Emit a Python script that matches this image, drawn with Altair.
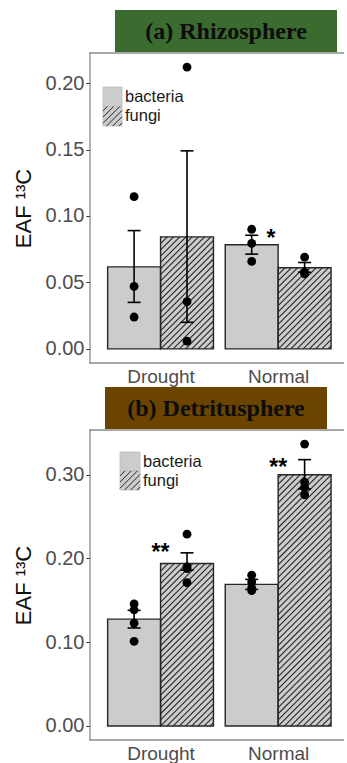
import altair as alt
import numpy as np
import pandas as pd

conditions = ["Drought", "Normal"]
groups = ["bacteria", "fungi"]

# ---------------- (a) Rhizosphere ----------------
a_mean_bacteria = [0.0617, 0.0783]
a_mean_fungi = [0.0843, 0.0610]
a_lo_bacteria = [0.0350, 0.0713]
a_hi_bacteria = [0.0890, 0.0855]
a_lo_fungi = [0.0200, 0.0577]
a_hi_fungi = [0.1490, 0.0650]
a_pts_drought_bacteria = [0.1145, 0.0470, 0.0240]
a_pts_drought_fungi = [0.2120, 0.0355, 0.0058]
a_pts_normal_bacteria = [0.0900, 0.0793, 0.0658]
a_pts_normal_fungi = [0.0690, 0.0575, 0.0565]
a_sig_labels = ["*"]
a_sig_x = [1.94]
a_sig_y = [0.0865]
a_ticks = [0.00, 0.05, 0.10, 0.15, 0.20]
a_ydom = [-0.0106, 0.2226]

# ---------------- (b) Detritusphere ----------------
b_mean_bacteria = [0.1275, 0.1690]
b_mean_fungi = [0.1940, 0.3000]
b_lo_bacteria = [0.1170, 0.1630]
b_hi_bacteria = [0.1380, 0.1750]
b_lo_fungi = [0.1860, 0.2830]
b_hi_fungi = [0.2067, 0.3180]
b_pts_drought_bacteria = [0.1457, 0.1386, 0.1228, 0.1010]
b_pts_drought_fungi = [0.2290, 0.1900, 0.1880, 0.1710]
b_pts_normal_bacteria = [0.1800, 0.1720, 0.1650, 0.1615]
b_pts_normal_fungi = [0.3366, 0.2910, 0.2850, 0.2760]
b_sig_labels = ["**", "**"]
b_sig_x = [1.0, 2.0]
b_sig_y = [0.212, 0.314]
b_ticks = [0.00, 0.10, 0.20, 0.30]
b_ydom = [-0.0168, 0.3534]

# ---------------- style ----------------
W, H = 254, 310
X_DOM = [0.4, 2.56]
BAR_W = 0.45
KX = W / (X_DOM[1] - X_DOM[0])
CAP_PX = 6.5
HATCH_SP = 6.2
FONT = "Liberation Sans"
BAR_FILL = "#cccccc"
DARK = "#262626"
FRAME = "#8c8c8c"
FW = 0.65  # half frame line width


def hatch(x0, ybase, wpx, hpx, ky):
    segs = []
    b = -wpx + HATCH_SP / 2
    while b < hpx:
        xs = max(0.0, -b)
        xe = min(wpx, hpx - b)
        if xe - xs > 0.3:
            segs.append({"hx": x0 + xs / KX, "hy": ybase + (xs + b) / ky,
                         "hx2": x0 + xe / KX, "hy2": ybase + (xe + b) / ky})
        b += HATCH_SP
    return segs


def make_panel(title, box_color, box_px, means, los, his, pts, sig, y_dom, y_ticks, leg):
    ky = H / (y_dom[1] - y_dom[0])
    xs = alt.Scale(domain=X_DOM, nice=False, zero=False)
    ys = alt.Scale(domain=y_dom, nice=False, zero=False)
    label_expr = "[" + ",".join("'%s'" % c for c in conditions) + "][round(datum.value) - 1]"
    x_axis = alt.Axis(values=[1, 2], labelExpr=label_expr, title=None, domain=False,
                      ticks=False, grid=False, labelFontSize=19, labelColor="#4d4d4d",
                      labelPadding=4, labelFont=FONT)
    y_axis = alt.Axis(values=y_ticks, format=".2f", title="EAF  ¹³C", domain=False, grid=False,
                      tickColor=DARK, tickSize=4, labelFontSize=20, labelColor="#4d4d4d",
                      labelPadding=2, labelFont=FONT, titleFont=FONT, titleFontSize=22,
                      titleFontWeight="normal", titleColor="#111111", titlePadding=10)

    def X(f):
        return alt.X(f + ":Q", scale=xs, axis=x_axis)

    def Y(f):
        return alt.Y(f + ":Q", scale=ys, axis=y_axis)

    rows, prow, hrows = [], [], []
    for ci, cond in enumerate(conditions):
        for g in groups:
            x0 = ci + 1 - BAR_W if g == "bacteria" else ci + 1
            xc = x0 + BAR_W / 2
            rows.append({"cond": cond, "group": g, "x0": x0, "x1": x0 + BAR_W, "xc": xc,
                         "xl": xc - CAP_PX / KX, "xr": xc + CAP_PX / KX,
                         "mean": means[g][ci], "lo": los[g][ci], "hi": his[g][ci]})
            for v in pts[(cond, g)]:
                prow.append({"xc": xc, "v": v})
            if g == "fungi":
                hrows += hatch(x0, 0.0, BAR_W * KX, means[g][ci] * ky, ky)
    bars = pd.DataFrame(rows)
    points = pd.DataFrame(prow)
    hatches = pd.DataFrame(hrows)

    # legend (in data coordinates, from pixel offsets)
    lx0, lx1, ly, lh, ltx = leg
    lrows, lhrows = [], []
    for i, g in enumerate(groups):
        top = y_dom[1] - (ly + i * lh) / ky
        bot = y_dom[1] - (ly + (i + 1) * lh) / ky
        x0 = X_DOM[0] + lx0 / KX
        x1 = X_DOM[0] + lx1 / KX
        lrows.append({"group": g, "x0": x0, "x1": x1, "top": top, "bot": bot,
                      "tx": X_DOM[0] + ltx / KX, "ty": (top + bot) / 2})
        if g == "fungi":
            lhrows += hatch(x0, bot, (lx1 - lx0), lh, ky)
    legd = pd.DataFrame(lrows)
    leghatch = pd.DataFrame(lhrows)

    one = pd.DataFrame({"k": [0]})
    layers = []
    # title box
    layers.append(alt.Chart(one).mark_rect(color=box_color).encode(
        x=alt.value(box_px[0]), x2=alt.value(box_px[1]), y=alt.value(-43), y2=alt.value(-1)))
    layers.append(alt.Chart(one).mark_text(text=title, font="Liberation Serif", fontSize=24,
                                           fontWeight="bold", color="#0d0d0d", align="center",
                                           baseline="middle").encode(
        x=alt.value((box_px[0] + box_px[1]) / 2), y=alt.value(-21)))
    # frame (top, left, bottom) as thin filled strips
    layers.append(alt.Chart(one).mark_rect(color=FRAME).encode(
        x=alt.value(-FW), x2=alt.value(W), y=alt.value(-FW), y2=alt.value(FW)))
    layers.append(alt.Chart(one).mark_rect(color=FRAME).encode(
        x=alt.value(-FW), x2=alt.value(FW), y=alt.value(-FW), y2=alt.value(H + FW)))
    layers.append(alt.Chart(one).mark_rect(color=FRAME).encode(
        x=alt.value(-FW), x2=alt.value(W), y=alt.value(H - FW), y2=alt.value(H + FW)))
    # bars
    layers.append(alt.Chart(bars).mark_rect(fill=BAR_FILL).encode(
        x=X("x0"), x2="x1", y=Y("mean"), y2=alt.datum(0)))
    layers.append(alt.Chart(hatches).mark_rule(color=DARK, strokeWidth=1.1).encode(
        x=X("hx"), x2="hx2", y=Y("hy"), y2="hy2"))
    layers.append(alt.Chart(bars).mark_rect(fillOpacity=0, stroke=DARK, strokeWidth=1.4).encode(
        x=X("x0"), x2="x1", y=Y("mean"), y2=alt.datum(0)))
    # error bars
    eb = dict(color="black", strokeWidth=1.6)
    layers.append(alt.Chart(bars).mark_rule(**eb).encode(x=X("xc"), y=Y("lo"), y2="hi"))
    layers.append(alt.Chart(bars).mark_rule(**eb).encode(x=X("xl"), x2="xr", y=Y("lo")))
    layers.append(alt.Chart(bars).mark_rule(**eb).encode(x=X("xl"), x2="xr", y=Y("hi")))
    # points
    layers.append(alt.Chart(points).mark_circle(size=78, color="black", opacity=1).encode(
        x=X("xc"), y=Y("v")))
    # significance
    sigdf = pd.DataFrame({"lab": sig[0], "sx": sig[1], "sy": sig[2]})
    layers.append(alt.Chart(sigdf).mark_text(fontSize=23, fontWeight="bold", font=FONT,
                                             color="black", baseline="alphabetic", dy=12).encode(
        x=X("sx"), y=Y("sy"), text="lab:N"))
    # legend
    layers.append(alt.Chart(legd).mark_rect(fill=BAR_FILL, stroke="#bdbdbd", strokeWidth=0.8).encode(
        x=X("x0"), x2="x1", y=Y("top"), y2="bot"))
    layers.append(alt.Chart(leghatch).mark_rule(color=DARK, strokeWidth=1.0).encode(
        x=X("hx"), x2="hx2", y=Y("hy"), y2="hy2"))
    layers.append(alt.Chart(legd).mark_text(fontSize=16.5, font=FONT, color="#1a1a1a", align="left",
                                            baseline="middle").encode(
        x=X("tx"), y=Y("ty"), text="group:N"))
    return alt.layer(*layers).properties(
        width=W, height=H, view=alt.ViewBackground(stroke="transparent", strokeWidth=0))


panel_a = make_panel(
    "(a) Rhizosphere", "#3b6b2f", (25, 247),
    {"bacteria": a_mean_bacteria, "fungi": a_mean_fungi},
    {"bacteria": a_lo_bacteria, "fungi": a_lo_fungi},
    {"bacteria": a_hi_bacteria, "fungi": a_hi_fungi},
    {("Drought", "bacteria"): a_pts_drought_bacteria, ("Drought", "fungi"): a_pts_drought_fungi,
     ("Normal", "bacteria"): a_pts_normal_bacteria, ("Normal", "fungi"): a_pts_normal_fungi},
    (a_sig_labels, a_sig_x, a_sig_y), a_ydom, a_ticks,
    (13, 32, 34, 19.5, 35))

panel_b = make_panel(
    "(b) Detritusphere", "#6b4500", (15, 237),
    {"bacteria": b_mean_bacteria, "fungi": b_mean_fungi},
    {"bacteria": b_lo_bacteria, "fungi": b_lo_fungi},
    {"bacteria": b_hi_bacteria, "fungi": b_hi_fungi},
    {("Drought", "bacteria"): b_pts_drought_bacteria, ("Drought", "fungi"): b_pts_drought_fungi,
     ("Normal", "bacteria"): b_pts_normal_bacteria, ("Normal", "fungi"): b_pts_normal_fungi},
    (b_sig_labels, b_sig_x, b_sig_y), b_ydom, b_ticks,
    (30, 50, 22, 19, 53))

chart = alt.vconcat(panel_a, panel_b, spacing=67, bounds="flush").properties(
    padding={"left": 12, "top": 10, "right": 0, "bottom": 0}
).configure_view(stroke="transparent", strokeWidth=0).configure(background="white")

chart.save("out.html", embed_options={"renderer": "svg", "actions": False})
